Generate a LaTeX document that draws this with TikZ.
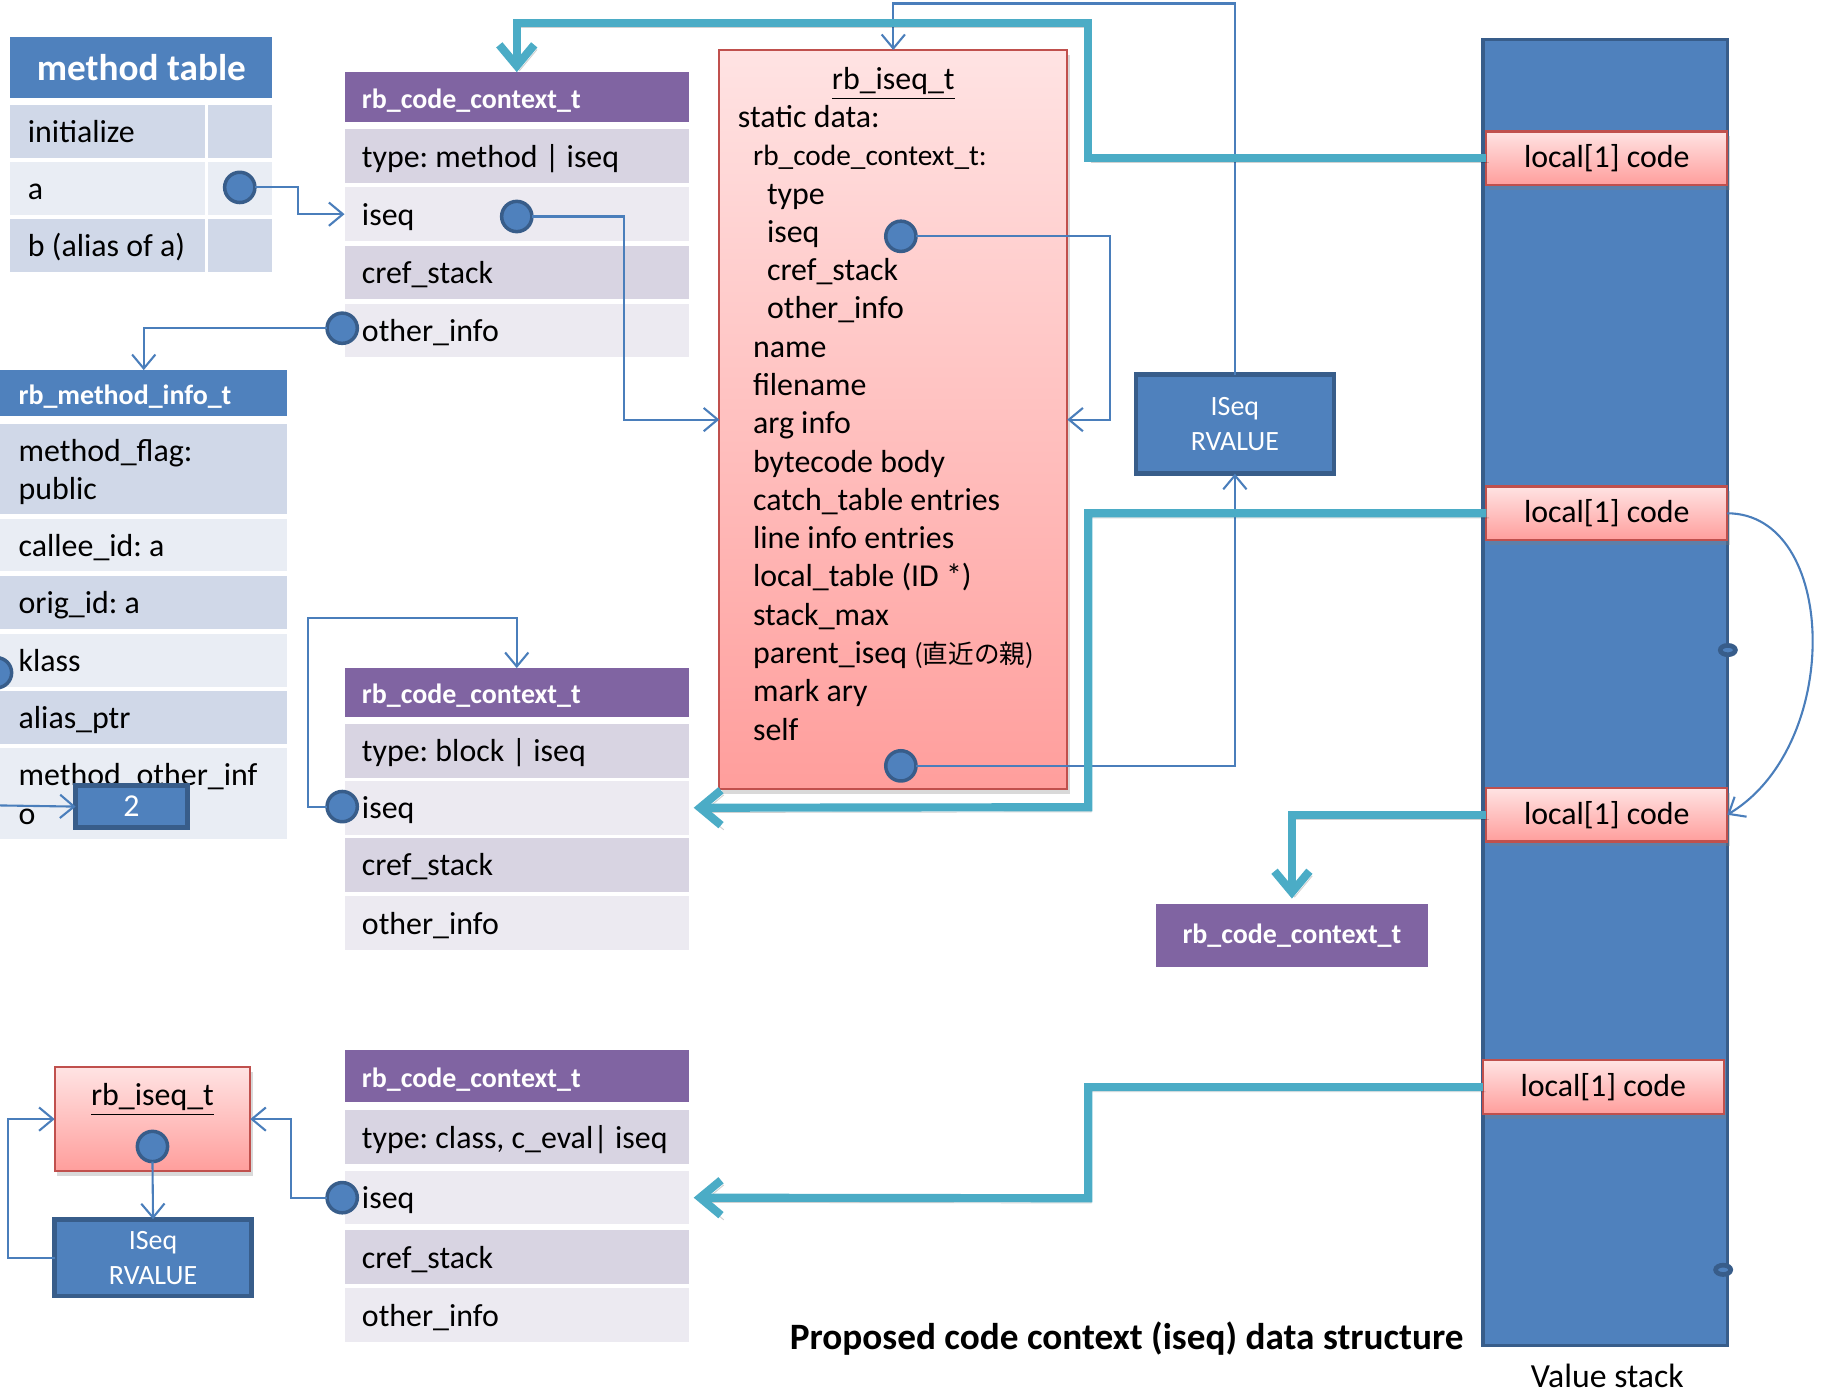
\documentclass[tikz,border=0pt]{standalone}
\usepackage{fontspec}
\setmainfont{Carlito}
\newfontfamily\cjk{Noto Sans CJK JP}
\usetikzlibrary{arrows.meta,calc,shadows,shapes.geometric}

\definecolor{hdrblue}{HTML}{4F81BD}
\definecolor{edgeblue}{HTML}{385D8A}
\definecolor{ptrblue}{HTML}{4A7EBB}
\definecolor{hdrpurple}{HTML}{8064A2}
\definecolor{bandA}{HTML}{D0D8E8}
\definecolor{bandB}{HTML}{E9EDF4}
\definecolor{pbandA}{HTML}{D8D4E2}
\definecolor{pbandB}{HTML}{ECEAF1}
\definecolor{pinkTop}{HTML}{FFE3E3}
\definecolor{pinkBot}{HTML}{FF9E9C}
\definecolor{redEdge}{HTML}{C0504D}
\definecolor{tealC}{HTML}{4BACC6}

\newcommand\bodyfont{\fontsize{13.7}{16.5}\selectfont}
\newcommand\hdrfont{\bfseries\fontsize{12}{14}\selectfont}
\newcommand\rvfont{\fontsize{12}{15}\selectfont}
% row struts: fixed height on the first line, fixed depth on the last line
\newcommand\rowtop{\rule{0pt}{13.8pt}}
\newcommand\rowbot{\rule[-4.2pt]{0pt}{4.2pt}}

\begin{document}
\begin{tikzpicture}[x=0.5pt,y=-0.5pt,
  every node/.style={inner sep=0pt, outer sep=0pt, font=\bodyfont},
  lpad/.style={execute at begin node={\leftskip=#1\rightskip=0pt plus 1fil\relax
      \spaceskip=0pt\xspaceskip=0pt\frenchspacing\rowtop},
    execute at end node={\rowbot}},
  cellrow/.style={anchor=north west, inner xsep=0pt},
  ctxrow/.style={cellrow, text width=148pt, minimum height=23pt, lpad=7.5pt},
  ctxhdr/.style={cellrow, text width=148pt, fill=hdrpurple, text=white, font=\hdrfont, lpad=7.5pt},
  mirow/.style={cellrow, text width=123.5pt, lpad=8pt},
  mtrow/.style={cellrow, text width=83.5pt, minimum height=23pt, lpad=7.5pt},
  mtcell/.style={anchor=north west, minimum width=27.5pt, minimum height=23pt},
  dotc/.style={circle, fill=hdrblue, draw=edgeblue, line width=1.5pt, minimum size=13pt},
  tinydot/.style={ellipse, fill=hdrblue, draw=edgeblue, line width=2pt, minimum width=6.5pt, minimum height=4pt},
  bluebox/.style={fill=hdrblue, draw=edgeblue, line width=2pt, text=white, align=center},
  pinkbox/.style={top color=pinkTop, bottom color=pinkBot, draw=redEdge, line width=0.8pt,
    drop shadow={shadow xshift=1pt, shadow yshift=-2pt, opacity=0.3}},
  ptr/.style={draw=ptrblue, line width=0.9pt, -{Straight Barb[length=6pt,width=10pt]}},
  tealline/.style={draw=tealC, line width=3.5pt, line join=miter,
    -{Straight Barb[length=9pt,width=15pt]},
    preaction={draw=black, draw opacity=0.18, transform canvas={shift={(1.2pt,-2pt)}}}},
  iseqline/.style={anchor=base west},
]
\useasboundingbox (0,0) rectangle (1568,1200);

% ---------- method table ----------
\node[fill=hdrblue, minimum width=112.5pt, minimum height=26pt, text=white,
      font=\bfseries\fontsize{16}{19}\selectfont] (mt) at (121.5,58) {method table};
\node[mtrow, fill=bandA] (mt1) at (9,90) {initialize};
\node[mtcell, fill=bandA] (mt1v) at (179,90) {};
\node[mtrow, fill=bandB] (mt2) at (9,139) {a};
\node[mtcell, fill=bandB] (mt2v) at (179,139) {};
\node[mtrow, fill=bandA] (mt3) at (9,188) {b (alias of a)};
\node[mtcell, fill=bandA] (mt3v) at (179,188) {};

% ---------- rb_method_info_t ----------
\node[cellrow, text width=123.5pt, minimum height=19.5pt, fill=hdrblue, text=white,
      font=\hdrfont, lpad=8pt] (mih) at (0,318) {rb\_method\_info\_t};
\node[mirow, fill=bandA, minimum height=39pt] (mi1) at (0,364) {method\_flag:\\public};
\node[mirow, fill=bandB, minimum height=22.5pt] (mi2) at (0,446) {callee\_id: a};
\node[mirow, fill=bandA, minimum height=22.5pt] (mi3) at (0,495) {orig\_id: a};
\node[mirow, fill=bandB, minimum height=22.5pt] (mi4) at (0,545) {klass};
\node[mirow, fill=bandA, minimum height=22.5pt] (mi5) at (0,594) {alias\_ptr};
\node[mirow, fill=bandB, minimum height=39pt] (mi6) at (0,643) {method\_other\_inf\\o};
\node[bluebox, minimum width=48pt, minimum height=18pt] (n2) at (113,693) {2};
\coordinate (n2src) at (0,692);

% ---------- method code context ----------
\node[ctxhdr, minimum height=21.5pt] (c1h) at (296,62) {rb\_code\_context\_t};
\node[ctxrow, fill=pbandA] (c1r1) at (296,111) {type: method | iseq};
\node[ctxrow, fill=pbandB] (c1r2) at (296,161) {iseq};
\node[ctxrow, fill=pbandA] (c1r3) at (296,211) {cref\_stack};
\node[ctxrow, fill=pbandB] (c1r4) at (296,261) {other\_info};

% ---------- block code context ----------
\node[ctxhdr, minimum height=21pt] (c2h) at (296,574) {rb\_code\_context\_t};
\node[ctxrow, fill=pbandA] (c2r1) at (296,622) {type: block | iseq};
\node[ctxrow, fill=pbandB] (c2r2) at (296,671) {iseq};
\node[ctxrow, fill=pbandA] (c2r3) at (296,720) {cref\_stack};
\node[ctxrow, fill=pbandB] (c2r4) at (296,770) {other\_info};

% ---------- class code context ----------
\node[ctxhdr, minimum height=22.5pt] (c3h) at (296,902) {rb\_code\_context\_t};
\node[ctxrow, fill=pbandA] (c3r1) at (296,954) {type: class, c\_eval| iseq};
\node[ctxrow, fill=pbandB] (c3r2) at (296,1006) {iseq};
\node[ctxrow, fill=pbandA] (c3r3) at (296,1057) {cref\_stack};
\node[ctxrow, fill=pbandB] (c3r4) at (296,1107) {other\_info};

% ---------- rb_iseq_t (full) ----------
\node[pinkbox, minimum width=149.5pt, minimum height=317.5pt] (big) at (767.5,360.5) {};
\node[anchor=base] (bigT) at (767.5,77) {\underline{rb\_iseq\_t}};
\node[iseqline] (b1)  at (634,109.5) {static data:};
\node[iseqline, font=\fontsize{12.6}{15}\selectfont] (b2) at (647,142.4) {rb\_code\_context\_t:};
\node[iseqline] (b3)  at (659,175.3) {type};
\node[iseqline] (b4)  at (659,208.2) {iseq};
\node[iseqline] (b5)  at (659,241.1) {cref\_stack};
\node[iseqline] (b6)  at (659,274.0) {other\_info};
\node[iseqline] (b7)  at (647,306.9) {name};
\node[iseqline] (b8)  at (647,339.8) {filename};
\node[iseqline] (b9)  at (647,372.7) {arg info};
\node[iseqline] (b10) at (647,405.6) {bytecode body};
\node[iseqline] (b11) at (647,438.5) {catch\_table entries};
\node[iseqline] (b12) at (647,471.4) {line info entries};
\node[iseqline] (b13) at (647,504.3) {local\_table (ID *)};
\node[iseqline] (b14) at (647,537.2) {stack\_max};
\node[iseqline] (b15) at (647,570.1) {parent\_iseq {\cjk\fontsize{11}{13}\selectfont (直近の親)}};
\node[iseqline] (b16) at (647,603.0) {mark ary};
\node[iseqline] (b17) at (647,635.9) {self};

\node[bluebox, minimum width=85pt, minimum height=42.5pt, font=\rvfont] (rv1) at (1061,364.5) {ISeq\\RVALUE};

% ---------- small rb_iseq_t and its RVALUE ----------
\node[pinkbox, minimum width=84pt, minimum height=44.5pt] (si) at (131,961.5) {};
\node[anchor=base] (siT) at (131,950) {\underline{rb\_iseq\_t}};
\node[bluebox, minimum width=84.5pt, minimum height=33pt, font=\rvfont] (rv2) at (131.5,1080.5) {ISeq\\RVALUE};

% ---------- lone code context ----------
\node[fill=hdrpurple, minimum width=117pt, minimum height=27pt, text=white, font=\hdrfont] (sc) at (1110,804) {rb\_code\_context\_t};

% ---------- value stack ----------
\node[fill=hdrblue, draw=edgeblue, line width=1.5pt, minimum width=105pt, minimum height=561pt] (stack) at (1379,595) {};
\node[pinkbox, line width=1pt, minimum width=103.5pt, minimum height=23pt] (ls1) at (1380.5,136) {local[1] code};
\node[pinkbox, line width=1pt, minimum width=103.5pt, minimum height=23pt] (ls2) at (1380.5,441) {local[1] code};
\node[pinkbox, line width=1pt, minimum width=103.5pt, minimum height=23pt] (ls3) at (1380.5,700) {local[1] code};
\node[pinkbox, line width=1pt, minimum width=103.5pt, minimum height=23pt] (ls4) at (1377.5,934) {local[1] code};
\node[tinydot] (e1) at (1484.5,558.5) {};
\node[tinydot] (e2) at (1480.5,1091) {};
\node[font=\fontsize{14.5}{17}\selectfont] (vsl) at (1381,1182) {Value stack};

\node[font=\bfseries\fontsize{16}{19}\selectfont] (title) at (968,1150) {Proposed code context (iseq) data structure};

% ---------- reference dots ----------
\node[dotc] (dA) at (206,161) {};
\node[dotc] (dB) at (444,186) {};
\node[dotc] (dC) at (294,282) {};
\node[dotc] (dK) at (-3,578) {};
\node[dotc] (dD) at (774,203) {};
\node[dotc] (dE) at (774,658) {};
\node[dotc] (dF) at (294,693) {};
\node[dotc] (dG) at (294,1029) {};
\node[dotc] (dH) at (131,985) {};

% ---------- thin pointers ----------
\draw[ptr] (n2src) -- (n2.west);
\draw[ptr] (dA.east) -- ++(37,0) |- (c1r2.west);
\draw[ptr] (dB.east) -- ++(79,0) |- (big.west);
\draw[ptr] (dC.west) -| (mih.north);
\draw[ptr] (dD.east) -- ++(167,0) |- (big.east);
\draw[ptr] (dE.east) -| (rv1.south);
\draw[ptr] (rv1.north) -- ++(0,-319) -| (big.north);
\coordinate (c2top) at ($(c2h.north)+(0,-43)$);
\draw[ptr] (dF.west) -- ++(-16,0) |- (c2top) -- (c2h.north);
\draw[ptr] (dG.west) -- ++(-31,0) |- (si.east);
\draw[ptr] (dH.south) -- (rv2.north);
\draw[ptr] (rv2.west) -- ++(-40,0) |- (si.west);
\draw[ptr] (ls2.east) .. controls +(95,0) and +(100,-60) .. (ls3.east);

% ---------- thick frame links ----------
\coordinate (t1) at (935,20);
\coordinate (t2) at (935,693.5);
\coordinate (t4) at (935,1029.5);
\draw[tealline] (ls1.west) -| (t1) -| (c1h.north);
\draw[tealline, shorten >=2pt] (ls2.west) -| (t2) -- (c2r2.east);
\draw[tealline, shorten >=2.5pt] (ls3.west) -| (sc.north);
\draw[tealline, shorten >=2pt] (ls4.west) -| (t4) -- (c3r2.east);
\end{tikzpicture}
\end{document}
